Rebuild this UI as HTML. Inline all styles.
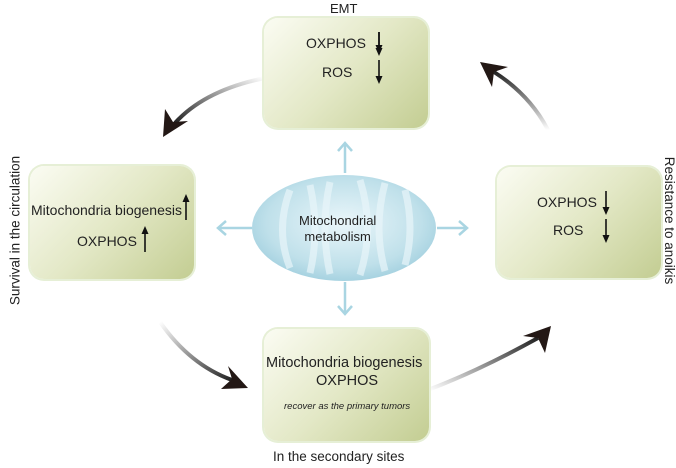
<!DOCTYPE html>
<html><head><style>
body{margin:0;width:676px;height:468px;background:#fff;position:relative;overflow:hidden;font-family:"Liberation Sans",sans-serif;color:#222}
.box{position:absolute;border-radius:14px;background:linear-gradient(135deg,#fbfcf3 0%,#e3e8c6 50%,#c3cd92 100%);box-shadow:0 0 0 2px #e6efd6}
.t{position:absolute;font-size:14px;white-space:nowrap}
</style></head><body>
<svg width="676" height="468" style="position:absolute;left:0;top:0">
<defs>
<radialGradient id="el" cx="50%" cy="45%" r="60%"><stop offset="0" stop-color="#eaf6fa"/><stop offset="0.7" stop-color="#bfe0ea"/><stop offset="1" stop-color="#9dcddd"/></radialGradient>
<linearGradient id="g1" x1="1" y1="0" x2="0" y2="1"><stop offset="0" stop-color="#fff"/><stop offset="1" stop-color="#222"/></linearGradient>
<linearGradient id="g2" x1="0" y1="0" x2="1" y2="1"><stop offset="0" stop-color="#fff"/><stop offset="1" stop-color="#222"/></linearGradient>
<linearGradient id="g3" x1="0" y1="1" x2="1" y2="0"><stop offset="0" stop-color="#fff"/><stop offset="1" stop-color="#222"/></linearGradient>
<linearGradient id="g4" x1="0" y1="1" x2="0" y2="0"><stop offset="0" stop-color="#fff"/><stop offset="1" stop-color="#222"/></linearGradient>
<marker id="ah" markerWidth="6" markerHeight="6" refX="3" refY="3" orient="auto"><path d="M0,0 L6,3 L0,6 z" fill="#111"/></marker>
</defs>
<g stroke="#a9d5e2" stroke-width="2.5" fill="none">
<line x1="345" y1="173" x2="345" y2="143"/><polyline points="338,151 345,143 352,151"/>
<line x1="345" y1="282" x2="345" y2="314"/><polyline points="338,306 345,314 352,306"/>
<line x1="252" y1="228" x2="218" y2="228"/><polyline points="226,221 218,228 226,235"/>
<line x1="437" y1="228" x2="467" y2="228"/><polyline points="459,221 467,228 459,235"/>
</g>
<ellipse cx="344" cy="228" rx="92" ry="53" fill="url(#el)"/>
<path d="M290 190 q-15 40 0 78 M310 185 q10 45 0 88 M330 182 q-10 45 0 92 M360 180 q15 48 0 95 M385 183 q-12 45 0 88 M405 190 q10 38 0 75" stroke="#e8f5f9" stroke-width="7" fill="none" opacity="0.7"/>
<path d="M265 78 Q205 90 175 123" stroke="url(#g1)" stroke-width="4" fill="none"/>
<polygon points="163,137 165,109 173,122 188,121" fill="#231815"/>
<path d="M160 322 Q190 365 232 380" stroke="url(#g2)" stroke-width="4" fill="none"/>
<polygon points="248,388 221,389 232,379 228,366" fill="#231815"/>
<path d="M428 390 Q480 370 538 338" stroke="url(#g3)" stroke-width="4" fill="none"/>
<polygon points="551,326 545,353 538,338 523,336" fill="#231815"/>
<path d="M548 130 Q530 95 494 72" stroke="url(#g4)" stroke-width="4" fill="none"/>
<polygon points="480,62 508,67 494,72 492,87" fill="#231815"/>
</svg>
<div class="box" style="left:264px;top:18px;width:164px;height:110px"></div>
<div class="box" style="left:30px;top:166px;width:164px;height:113px"></div>
<div class="box" style="left:497px;top:167px;width:164px;height:111px"></div>
<div class="box" style="left:264px;top:329px;width:165px;height:112px"></div>
<svg width="676" height="468" style="position:absolute;left:0;top:0" stroke="#111" stroke-width="1.6">
<line x1="379" y1="32" x2="379" y2="49" marker-end="url(#ah2)"/>
<defs><marker id="ah2" markerWidth="8" markerHeight="8" refX="4" refY="4" orient="auto" markerUnits="userSpaceOnUse"><path d="M0,0.5 L8,4 L0,7.5 z" fill="#111" stroke="none"/></marker></defs>
<line x1="379" y1="32" x2="379" y2="52" marker-end="url(#ah2)"/>
<line x1="379" y1="60" x2="379" y2="80" marker-end="url(#ah2)"/>
<line x1="186" y1="220" x2="186" y2="198" marker-end="url(#ah2)"/>
<line x1="145" y1="252" x2="145" y2="230" marker-end="url(#ah2)"/>
<line x1="606" y1="191" x2="606" y2="211" marker-end="url(#ah2)"/>
<line x1="606" y1="219" x2="606" y2="239" marker-end="url(#ah2)"/>
</svg>
<div class="t" style="left:330px;top:1px;font-size:13px">EMT</div>
<div class="t" style="left:306px;top:35px">OXPHOS</div>
<div class="t" style="left:322px;top:64px">ROS</div>
<div class="t" style="left:299px;top:213px;text-align:center;line-height:16px;font-size:13px">Mitochondrial<br>metabolism</div>
<div class="t" style="left:31px;top:202px">Mitochondria biogenesis</div>
<div class="t" style="left:77px;top:233px">OXPHOS</div>
<div class="t" style="left:537px;top:194px">OXPHOS</div>
<div class="t" style="left:553px;top:222px">ROS</div>
<div class="t" style="left:266px;top:355px;font-size:14.5px">Mitochondria biogenesis</div>
<div class="t" style="left:316px;top:373px;font-size:14.5px">OXPHOS</div>
<div class="t" style="left:284px;top:401px;font-size:9.5px;font-style:italic">recover as the primary tumors</div>
<div class="t" style="left:273px;top:449px;font-size:13.5px">In the secondary sites</div>
<div class="t" style="left:-75px;top:223px;transform:rotate(-90deg);width:180px;text-align:center;font-size:13.5px">Survival in the circulation</div>
<div class="t" style="left:597px;top:213px;transform:rotate(90deg);width:145px;text-align:center;font-size:13.5px">Resistance to anoikis</div>
</body></html>
